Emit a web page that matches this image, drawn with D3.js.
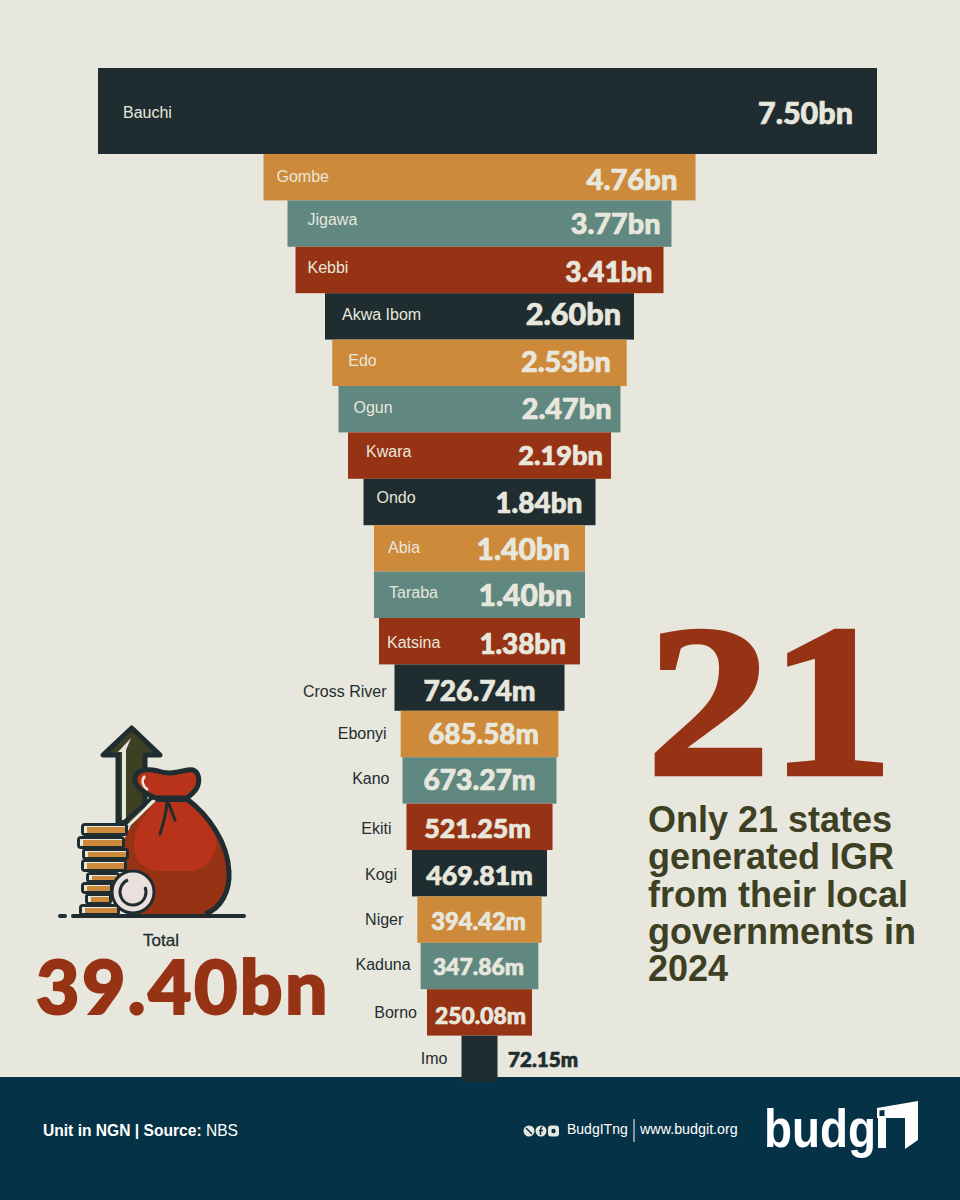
<!DOCTYPE html>
<html>
<head>
<meta charset="utf-8">
<title>IGR from local governments</title>
<script src="https://cdn.jsdelivr.net/npm/d3@7/dist/d3.min.js"></script>
<style>
  html, body { margin: 0; padding: 0; background: #e8e7dd; }
  svg { display: block; }
  .state { font-family: "Liberation Sans", sans-serif; font-size: 16px; }
  .amount { font-family: Lato, sans-serif; font-weight: 900; }
</style>
</head>
<body>
<div id="chart"></div>
<script>
// Chart data, amounts in NGN billions
const states = ['Bauchi', 'Gombe', 'Jigawa', 'Kebbi', 'Akwa Ibom', 'Edo', 'Ogun', 'Kwara', 'Ondo', 'Abia', 'Taraba',
  'Katsina', 'Cross River', 'Ebonyi', 'Kano', 'Ekiti', 'Kogi', 'Niger', 'Kaduna', 'Borno', 'Imo'];
const amounts = [7.5, 4.76, 3.77, 3.41, 2.6, 2.53, 2.47, 2.19, 1.84, 1.4, 1.4,
  1.38, 0.72674, 0.68558, 0.67327, 0.52125, 0.46981, 0.39442, 0.34786, 0.25008, 0.07215];
const amountLabels = ['7.50bn', '4.76bn', '3.77bn', '3.41bn', '2.60bn', '2.53bn', '2.47bn', '2.19bn', '1.84bn', '1.40bn', '1.40bn',
  '1.38bn', '726.74m', '685.58m', '673.27m', '521.25m', '469.81m', '394.42m', '347.86m', '250.08m', '72.15m'];
const headline = ['Only 21 states', 'generated IGR', 'from their local', 'governments in', '2024'];

// The bars are a funnel, not a linear scale, so the width scale has knots
const widthDomain = [0.07215, 0.25, 0.35, 0.47, 0.52, 0.67, 0.73, 1.38, 1.4, 1.84, 2.19, 2.47, 2.6, 3.41, 3.77, 4.76, 7.5];
const widthRange = [36, 105, 118, 135, 146, 153, 171, 201, 211, 232, 263, 282, 309, 368, 384, 432, 779];

// Label placement per row, relative to the bar
const nameInset = [25, 13, 20, 12, 17, 16, 15, 18, 13, 14, 15, 8, 8, 14, 13, 15, 15, 14, 10, 10, 14];
const amountInset = [24, 18, 11, 11, 13, 16, 9, 8, 13, 15, 13, 14];
const amountShift = [0, 4, 0, -2, 0, -1, -1, 1];
const nameNudge = [2, -1, -4, -2, -2, -2, -2, -4, -4, -1, -2, 1, 4, 0, -2, 2, 1, 0, -1, 0, 0];
const amountNudge = [2, 2, 0, 2, -2, -1, -1, 0, 1, 1, 0, 3, 3, 0, -1, 2, 2, 2, 1, 3, 1];
const amountSize = [30.5, 29.2, 28.8, 28, 30.6, 28.8, 28.8, 27.2, 28, 30, 30, 27.8, 28.2, 27.8, 28.2, 26.8, 26.8, 23.8, 22.8, 22.8, 20.6];

const palette = { bg: '#e8e7dd', dark: '#1f2d30', orange: '#cd8a3a', teal: '#608880', red: '#973315', navy: '#053246', olive: '#3d4023', cream: '#e8e7dd' };
const barColors = [palette.dark, palette.orange, palette.teal, palette.red];

const width = 960;
const height = 1200;
const inkFor = i => barColors[i % 4];

const svg = d3.select('#chart').append('svg').attr('width', width).attr('height', height);
svg.append('rect').attr('width', width).attr('height', height).attr('fill', palette.bg);

// Footer goes first, the last bar sits over it
svg.append('rect').attr('y', 1077).attr('width', width).attr('height', 123).attr('fill', palette.navy);

const widthScale = d3.scaleLinear().domain(widthDomain).range(widthRange);
const rowScale = d3.scaleBand().domain(states.slice(1)).range([154, 1082]);

// Bauchi is taller than the others and sits off the funnel axis
const rows = states.map((name, i) => {
  const w = widthScale(amounts[i]);
  const mid = i === 0 ? 487.5 : 479.5;
  const y0 = i === 0 ? 68 : rowScale(name);
  const h = i === 0 ? 86 : rowScale.bandwidth();
  return { name, i, amount: amounts[i], label: amountLabels[i], x0: mid - w / 2, x1: mid + w / 2, mid, y0, h };
});

drawBars();
drawNames();
drawAmounts();
drawCallout();
drawTotal();
drawFooter();

function drawBars() {
  svg.append('g').selectAll('rect')
    .data(rows)
    .enter()
    .append('rect')
    .attr('x', d => d.x0)
    .attr('y', d => d.y0)
    .attr('width', d => d.x1 - d.x0)
    .attr('height', d => d.h)
    .attr('fill', d => inkFor(d.i));
}

function drawNames() {
  svg.append('g').selectAll('text')
    .data(rows)
    .enter()
    .append('text')
    .attr('class', 'state')
    .attr('x', d => d.i < 12 ? d.x0 + nameInset[d.i] : d.x0 - nameInset[d.i])
    .attr('y', d => d.y0 + d.h / 2 + nameNudge[d.i])
    .attr('dy', '0.34em')
    .attr('text-anchor', d => d.i < 12 ? 'start' : 'end')
    .attr('fill', d => d.i < 12 ? palette.cream : palette.dark)
    .text(d => d.name);
}

function drawAmounts() {
  // Lato tops out a little light here, a thin stroke brings the weight up
  svg.append('g').selectAll('text')
    .data(rows)
    .enter()
    .append('text')
    .attr('class', 'amount')
    .attr('x', d => {
      if (d.i < 12) return d.x1 - amountInset[d.i];
      if (d.i === 20) return d.x1 + 10.5;
      return d.mid + amountShift[d.i - 12];
    })
    .attr('y', d => d.y0 + d.h / 2 + amountNudge[d.i])
    .attr('dy', '0.36em')
    .attr('text-anchor', d => d.i < 12 ? 'end' : (d.i === 20 ? 'start' : 'middle'))
    .attr('font-size', d => amountSize[d.i])
    .attr('fill', d => d.i === 20 ? palette.dark : palette.cream)
    .attr('stroke', d => d.i === 20 ? palette.dark : palette.cream)
    .attr('stroke-width', 0.7)
    .text(d => d.label);
}

function drawCallout() {
  svg.append('text')
    .attr('transform', 'translate(647,774) scale(1.075,0.94)')
    .attr('font-family', '"Liberation Serif", serif')
    .attr('font-weight', 700)
    .attr('font-size', 229)
    .attr('fill', palette.red)
    .attr('stroke', palette.red)
    .attr('stroke-width', 5)
    .text('21');

  svg.append('g').selectAll('text')
    .data(headline)
    .enter()
    .append('text')
    .attr('x', 648)
    .attr('y', (d, i) => 832 + i * 37.3)
    .attr('font-family', '"Liberation Sans", sans-serif')
    .attr('font-weight', 700)
    .attr('font-size', 36)
    .attr('fill', palette.olive)
    .text(d => d);
}

function drawTotal() {
  svg.append('text')
    .attr('x', 161).attr('y', 946)
    .attr('text-anchor', 'middle')
    .attr('font-family', '"Liberation Sans", sans-serif')
    .attr('font-size', 17)
    .attr('stroke', palette.dark).attr('stroke-width', 0.3)
    .attr('fill', palette.dark)
    .text('Total');

  svg.append('text')
    .attr('class', 'amount')
    .attr('x', 36).attr('y', 1014)
    .attr('font-size', 75)
    .attr('letter-spacing', 2.4)
    .attr('fill', palette.red)
    .attr('stroke', palette.red)
    .attr('stroke-width', 2)
    .text('39.40bn');

  drawMoneyBag(svg.append('g'));
}

// Money bag, coins and arrow icon
function drawMoneyBag(g) {
  const ink = palette.dark;

  // arrow behind the bag
  g.append('path')
    .attr('d', 'M131.7 728 L103 755 L118 755 L118 824 L145 824 L145 755 L160 755 Z')
    .attr('fill', palette.olive).attr('stroke', ink).attr('stroke-width', 5).attr('stroke-linejoin', 'round');
  g.append('path')
    .attr('d', 'M131 738 L118 752 L122 752 L122 820 L126 820 L126 750 Z')
    .attr('fill', palette.cream);

  // diagonal shoulder between arrow and bag
  g.append('path').attr('d', 'M122 824 L152 798').attr('stroke', ink).attr('stroke-width', 4);

  // bag body, light top with a darker bottom band and left crescent
  g.append('path')
    .attr('d', 'M156 801 C145 812 130 822 125 838 C122 860 122 890 127 914 L205 914 C222 908 230 890 229 872 C228 842 208 815 187 799 Z')
    .attr('fill', '#973315');
  g.append('path')
    .attr('d', 'M156 801 C148 812 136 824 134 840 C133 855 140 871 160 871 L195 871 C210 866 217 855 216 838 C210 822 200 810 187 799 Z')
    .attr('fill', '#b8331a');
  g.append('path').attr('d', 'M153 801 C145 810 136 818 128 826').attr('fill', 'none').attr('stroke', palette.cream).attr('stroke-width', 3);
  g.append('path').attr('d', 'M187 799 C208 815 228 842 229 872 C230 890 222 908 205 914')
    .attr('fill', 'none').attr('stroke', ink).attr('stroke-width', 5);

  // neck
  g.append('path')
    .attr('d', 'M156 798 C146 794 134 788 135 778 C137 768 150 769 158 771 C168 775 178 772 188 770 C198 768 200 778 198 785 C196 792 190 795 187 798 Z')
    .attr('fill', '#b8331a').attr('stroke', ink).attr('stroke-width', 5).attr('stroke-linejoin', 'round');
  g.append('path').attr('d', 'M145 776 C141 780 142 786 148 790').attr('fill', 'none').attr('stroke', palette.cream).attr('stroke-width', 2.5);
  g.append('path').attr('d', 'M158 799 L187 799').attr('stroke', ink).attr('stroke-width', 6).attr('stroke-linecap', 'round');
  g.append('path').attr('d', 'M167 802 C166 815 163 825 160 834').attr('fill', 'none').attr('stroke', ink).attr('stroke-width', 3).attr('stroke-linecap', 'round');
  g.append('path').attr('d', 'M169 804 C171 810 173 815 175 820').attr('fill', 'none').attr('stroke', ink).attr('stroke-width', 3).attr('stroke-linecap', 'round');

  // coin stack, from the top down
  const coinRows = [[81, 128, 823, 13], [77, 125, 836, 13], [82, 129, 848, 12], [81, 127, 859, 13], [86, 120, 872, 11], [81, 113, 882, 12], [85, 112, 893, 12], [79, 120, 904, 12]];
  coinRows.forEach(([x0, x1, y, h]) => {
    g.append('rect').attr('x', x0).attr('y', y).attr('width', x1 - x0).attr('height', h).attr('rx', 4).attr('fill', ink);
    g.append('rect').attr('x', x0 + 3).attr('y', y + 3).attr('width', x1 - x0 - 6).attr('height', h - 6).attr('fill', palette.cream);
    g.append('rect').attr('x', x0 + 6).attr('y', y + 4).attr('width', x1 - x0 - 9).attr('height', h - 7).attr('fill', palette.orange);
  });

  // round coin in front
  g.append('circle').attr('cx', 133).attr('cy', 892).attr('r', 21).attr('fill', '#ece0de').attr('stroke', ink).attr('stroke-width', 3);
  g.append('path').attr('d', 'M128 880 A13 13 0 1 0 145 887').attr('fill', 'none').attr('stroke', ink).attr('stroke-width', 3);

  // ground line
  g.append('path').attr('d', 'M73 916 L244 916 M60 916 L65 916')
    .attr('stroke', ink).attr('stroke-width', 4).attr('stroke-linecap', 'round');
}

function drawFooter() {
  const sans = '"Liberation Sans", sans-serif';
  const note = svg.append('text')
    .attr('x', 43).attr('y', 1136)
    .attr('font-family', sans).attr('font-size', 15.6).attr('fill', '#ffffff');
  note.append('tspan').attr('font-weight', 700).text('Unit in NGN | Source: ');
  note.append('tspan').text('NBS');

  // social icons
  const icons = svg.append('g').attr('fill', palette.cream);
  icons.append('circle').attr('cx', 529).attr('cy', 1131).attr('r', 5.5);
  icons.append('circle').attr('cx', 541).attr('cy', 1131).attr('r', 5.5);
  icons.append('rect').attr('x', 548).attr('y', 1125.5).attr('width', 11).attr('height', 11).attr('rx', 3);
  icons.append('path').attr('d', 'M526 1128 L532 1134').attr('stroke', palette.navy).attr('stroke-width', 1.5);
  icons.append('path').attr('d', 'M542.5 1127 C540.5 1127 540.5 1129 540.5 1135 M539 1130.5 L543 1130.5').attr('fill', 'none').attr('stroke', palette.navy).attr('stroke-width', 1.5);
  icons.append('circle').attr('cx', 553.5).attr('cy', 1131).attr('r', 2.2).attr('fill', palette.navy);

  svg.append('text').attr('x', 567).attr('y', 1134)
    .attr('font-family', sans).attr('font-size', 14).attr('fill', '#ffffff').text('BudgITng');
  svg.append('line').attr('x1', 634).attr('x2', 634).attr('y1', 1119).attr('y2', 1142)
    .attr('stroke', '#ffffff').attr('stroke-width', 1);
  svg.append('text').attr('x', 640).attr('y', 1134)
    .attr('font-family', sans).attr('font-size', 14.3).attr('fill', '#ffffff').text('www.budgit.org');

  // logo, the "IT" is a small building shape
  svg.append('text').attr('x', 764).attr('y', 1147)
    .attr('font-family', sans).attr('font-weight', 700).attr('font-size', 53)
    .attr('textLength', 112).attr('lengthAdjust', 'spacingAndGlyphs')
    .attr('fill', '#ffffff').text('budg');
  svg.append('path')
    .attr('fill-rule', 'evenodd')
    .attr('d', 'M877 1108 L918 1101 L918 1140 L905 1149 L905 1118 L886 1118 L886 1148 L878 1148 L878 1118 L877 1118 Z M879.5 1110.5 L879.5 1116 L884.5 1116 L884.5 1110 Z')
    .attr('fill', '#ffffff');
}
</script>
</body>
</html>
